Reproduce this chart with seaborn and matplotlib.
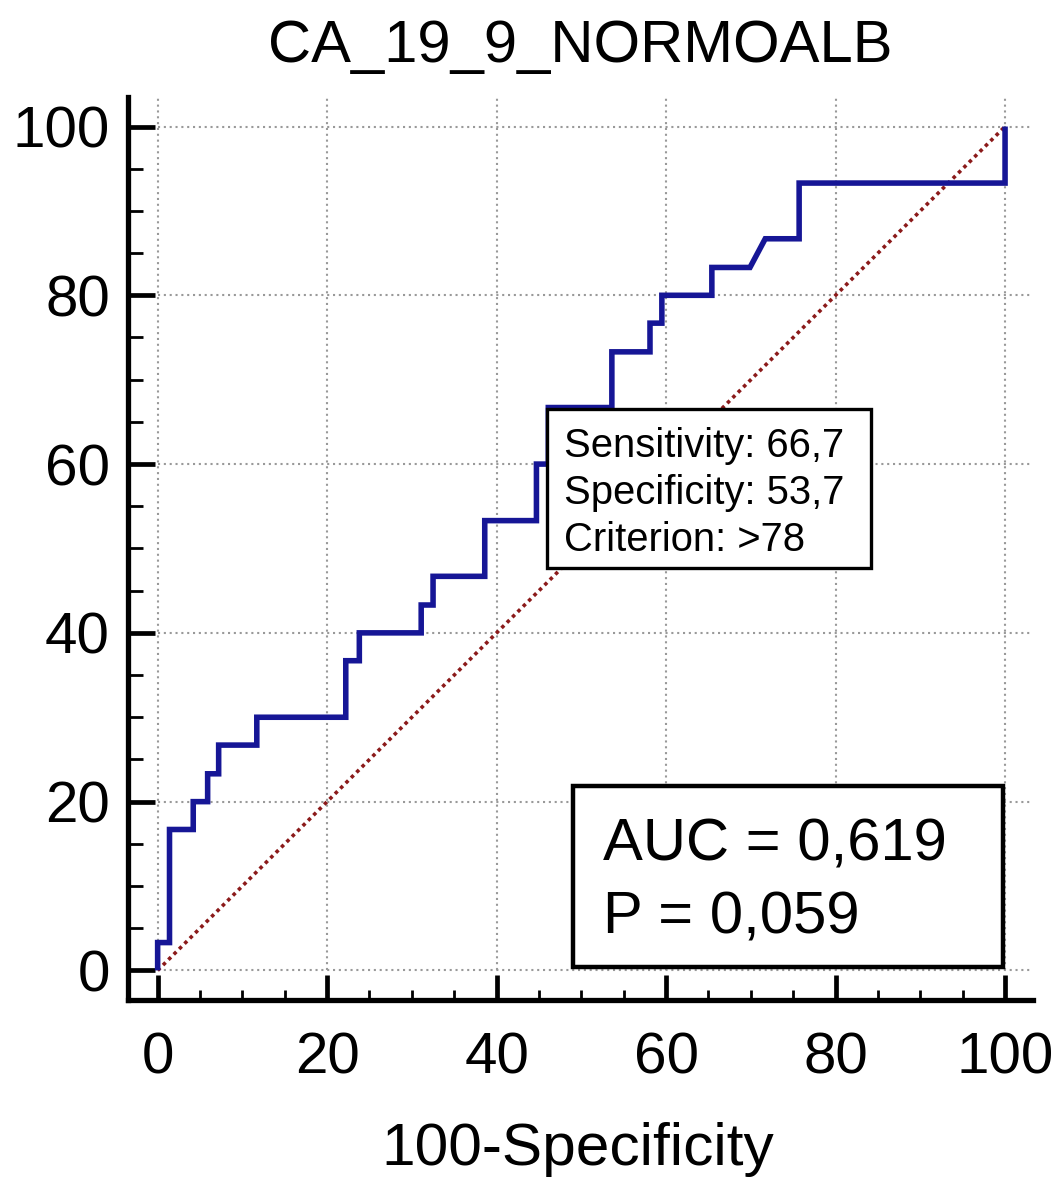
import matplotlib
matplotlib.use("Agg")
import matplotlib.pyplot as plt
import seaborn as sns
import pandas as pd
from matplotlib.patches import Rectangle
from matplotlib.ticker import FixedLocator

# ---------------- data ----------------
title = "CA_19_9_NORMOALB"
x_label = "100-Specificity"
roc_fpr = [0, 0, 1.4, 1.4, 4.2, 4.2, 5.9, 5.9, 7.2, 7.2, 11.7, 11.7, 22.2, 22.2,
           23.8, 23.8, 31.1, 31.1, 32.5, 32.5, 38.6, 38.6, 44.7, 44.7, 46.1, 46.1,
           53.6, 53.6, 58.1, 58.1, 59.5, 59.5, 65.4, 65.4, 69.9, 71.7, 75.7, 75.7,
           100, 100]
roc_tpr = [0, 3.3, 3.3, 16.7, 16.7, 20, 20, 23.3, 23.3, 26.7, 26.7, 30, 30, 36.7,
           36.7, 40, 40, 43.3, 43.3, 46.7, 46.7, 53.3, 53.3, 60, 60, 66.7,
           66.7, 73.3, 73.3, 76.7, 76.7, 80, 80, 83.3, 83.3, 86.7, 86.7, 93.3,
           93.3, 100]
diag_x = [0, 100]
diag_y = [0, 100]
major_ticks = [0, 20, 40, 60, 80, 100]
tick_labels = ["0", "20", "40", "60", "80", "100"]
sens_lines = ["Sensitivity: 66,7", "Specificity: 53,7", "Criterion: >78"]
auc_lines = ["AUC = 0,619", "P = 0,059"]

# ---------------- style ----------------
sns.set_theme(style="white")
plt.rcParams['font.family'] = ['Liberation Sans', 'DejaVu Sans']

fig = plt.figure(figsize=(10.63, 11.9), dpi=100)
ax = fig.add_axes([0.1204, 0.1597, 0.8514, 0.7588])
XMIN, XMAX, YMIN, YMAX = -3.5, 103.3, -3.5, 103.5
ax.set_xlim(XMIN, XMAX)
ax.set_ylim(YMIN, YMAX)

# grid (only over the 0..max region)
grid_kw = dict(colors='#999999', linestyles=(0, (1, 1.8)), linewidth=1.5, zorder=0)
ax.vlines(major_ticks, 0, YMAX, **grid_kw)
ax.hlines(major_ticks, 0, XMAX, **grid_kw)

# diagonal reference
sns.lineplot(x=diag_x, y=diag_y, ax=ax, color='#8b1a1a', linewidth=2.6,
             linestyle=(0, (1, 1.1)), zorder=2)

# ROC curve
roc_df = pd.DataFrame({'fpr': roc_fpr, 'tpr': roc_tpr})
sns.lineplot(data=roc_df, x='fpr', y='tpr', sort=False, estimator=None, ax=ax,
             color='#161696', linewidth=4.0, solid_joinstyle='miter',
             solid_capstyle='butt', zorder=3)

# Sensitivity / specificity box
ax.add_patch(Rectangle((46.0, 47.7), 38.2, 18.8, facecolor='white',
                       edgecolor='black', linewidth=2.4, zorder=5))
for txt, yb in zip(sens_lines, [60.8, 55.3, 49.7]):
    ax.text(47.9, yb, txt, fontsize=28.8, va='baseline', ha='left', zorder=6,
            color='black')

# AUC box
ax.add_patch(Rectangle((49.0, 0.4), 50.7, 21.4, facecolor='white',
                       edgecolor='black', linewidth=3.2, zorder=5))
for txt, yb in zip(auc_lines, [13.0, 4.4]):
    ax.text(52.5, yb, txt, fontsize=43, va='baseline', ha='left', zorder=6,
            color='black')

# axes / spines
for s in ['top', 'right']:
    ax.spines[s].set_visible(False)
for s in ['left', 'bottom']:
    ax.spines[s].set_linewidth(3.8)
    ax.spines[s].set_color('black')

ax.xaxis.set_major_locator(FixedLocator(major_ticks))
ax.yaxis.set_major_locator(FixedLocator(major_ticks))
ax.set_xticklabels(tick_labels)
ax.set_yticklabels(tick_labels)
minor_ticks = [v for v in range(5, 100, 5) if v % 20]
ax.xaxis.set_minor_locator(FixedLocator(minor_ticks))
ax.yaxis.set_minor_locator(FixedLocator(minor_ticks))

ax.tick_params(axis='x', which='major', direction='in', length=18, width=3.4,
               labelsize=42, pad=23, colors='black', bottom=True)
ax.tick_params(axis='x', which='minor', direction='in', length=7.5, width=2,
               bottom=True, colors='black')
ax.tick_params(axis='y', which='major', direction='in', length=19.5, width=3.4,
               labelsize=42, pad=13, colors='black', left=True)
ax.tick_params(axis='y', which='minor', direction='in', length=11, width=2,
               left=True, colors='black')

ax.set_xlabel(x_label, fontsize=43.5, color='black')
ax.xaxis.set_label_coords(0.497, -0.135)
ax.set_ylabel("")
ax.set_title(title, fontsize=43, pad=25, color='black')

fig.savefig("out.png", dpi=100, facecolor='white')
